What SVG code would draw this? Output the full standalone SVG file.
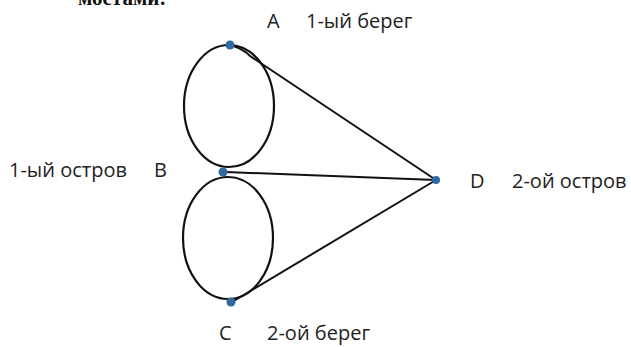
<svg xmlns="http://www.w3.org/2000/svg" width="631" height="347" viewBox="0 0 631 347">
<style>
.t{font-family:"Open Sans","Liberation Sans",sans-serif;font-size:20px;fill:#222}
.e{fill:none;stroke:#111;stroke-width:2.2}
.c{stroke:#111;stroke-width:2;fill:none}
.d{fill:#2f6aa3}
</style>
<rect width="631" height="347" fill="#fff"/>
<text x="78" y="5" font-family="Liberation Serif,serif" font-size="21" font-weight="bold" fill="#111">мостами:</text>
<g id="connectors">
<ellipse class="e" cx="229" cy="106" rx="45" ry="61"/>
<ellipse class="e" cx="228" cy="238" rx="45" ry="61"/>
<path class="c" d="M231 45 Q245 50 250 56 L436 180"/>
<path class="c" d="M226 172 L436 180"/>
<path class="c" d="M232 302 L436 180"/>
</g>
<g id="A"><circle class="d" cx="230" cy="45" r="4.5"/><text class="t" x="267" y="28">A</text><text class="t" x="306" y="28">1-ый берег</text></g>
<g id="B"><circle class="d" cx="223" cy="172" r="4.5"/><text class="t" x="9" y="177">1-ый остров</text><text class="t" x="154" y="177">B</text></g>
<g id="C"><circle class="d" cx="231" cy="302" r="4.5"/><text class="t" x="219" y="340">C</text><text class="t" x="267" y="340">2-ой берег</text></g>
<g id="D"><circle class="d" cx="436" cy="180" r="4"/><text class="t" x="470" y="188">D</text><text class="t" x="512" y="188">2-ой остров</text></g>
</svg>
